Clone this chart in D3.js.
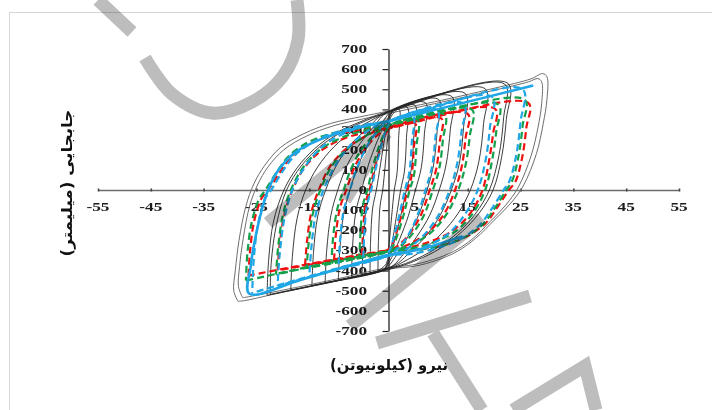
<!DOCTYPE html>
<html>
<head>
<meta charset="utf-8">
<script src="https://cdn.jsdelivr.net/npm/d3@7"></script>
<style>
  html, body { margin: 0; padding: 0; background: #fff; }
  svg { display: block; }
</style>
</head>
<body>
<svg id="chart" width="712" height="410"></svg>
<script>
// Axis ticks
const xTicks = [-55, -45, -35, -25, -15, -5, 5, 15, 25, 35, 45, 55];
const yTicks = [-700, -600, -500, -400, -300, -200, -100, 0, 100, 200, 300, 400, 500, 600, 700];

const xTitle = "نیرو (کیلونیوتن)";
const yTitle = "جابجایی (میلیمتر)";

// Test loops (thin black), [displacement, force] pairs
const blackLoops = [
  [[-2,-402],[-1.9,-250],[-1.6,-80],[-1.1,0],[-0.6,130],[-0.1,270],[0.4,360],[2,402],[1.9,250],[1.6,80],[1.1,0],[0.6,-130],[0.1,-270],[-0.4,-365],[-2,-402]],
  [[-3.5,-410],[-3.4,-260],[-3,-90],[-2.3,0],[-1.5,130],[-0.7,260],[0.1,360],[0.8,395],[3.5,412],[3.4,260],[3,90],[2.3,0],[1.5,-130],[0.7,-260],[-0.1,-360],[-0.8,-395],[-3.5,-410]],
  [[-5,-419],[-4.8,-270],[-4.3,-100],[-3.4,0],[-2.3,130],[-1.1,255],[0,345],[1,393],[5,421],[4.8,270],[4.3,100],[3.4,0],[2.3,-130],[1.1,-255],[0,-350],[-1,-396],[-5,-419]],
  [[-7,-431],[-6.8,-280],[-6.2,-110],[-5.1,0],[-3.8,125],[-2.1,245],[-0.6,330],[1,396],[7,433],[6.8,280],[6.2,110],[5.1,0],[3.8,-125],[2.1,-245],[0.6,-335],[-1,-396],[-7,-431]],
  [[-9.5,-445],[-9.2,-290],[-8.5,-120],[-7.3,0],[-5.7,125],[-3.6,235],[-1.5,320],[0.8,395],[9.5,449],[9.2,290],[8.5,120],[7.3,0],[5.7,-125],[3.6,-235],[1.5,-325],[-0.8,-394],[-9.5,-445]],
  [[-12,-460],[-11.7,-300],[-10.9,-125],[-9.6,0],[-7.8,125],[-5.4,230],[-2.8,315],[0,390],[12,464],[11.7,300],[10.9,125],[9.6,0],[7.8,-125],[5.4,-230],[2.8,-320],[0,-390],[-12,-460]],
  [[-14.5,-474],[-14.2,-310],[-13.4,-130],[-11.9,0],[-9.9,120],[-7.2,225],[-4,305],[-1,375],[14.5,480],[14.2,310],[13.4,130],[11.9,0],[9.9,-120],[7.2,-225],[4,-310],[1,-375],[-14.5,-474]],
  [[-18.5,-497],[-18.2,-330],[-17.3,-140],[-15.7,0],[-13.4,115],[-10.3,215],[-6.6,295],[-2.8,352],[0,388],[18.3,503],[18,330],[17.1,140],[15.5,0],[13.2,-115],[10.1,-215],[6.4,-300],[2.6,-360],[0,-390],[-18.5,-497]],
  [[-23,-523],[-22.7,-350],[-21.8,-160],[-19.8,0],[-17.3,110],[-14,205],[-9.8,285],[-5.2,340],[-1,382],[22.6,530],[22.3,350],[21.4,160],[19.8,0],[17.3,-110],[14,-205],[9.8,-290],[5.2,-350],[1,-388],[-23,-523]],
  [[-22.4,-518],[-22.2,-360],[-21.2,-170],[-19.3,0],[-16.5,120],[-13,215],[-8.7,290],[-4.2,345],[0,386],[22,526],[21.8,360],[20.9,170],[19.1,0],[16.4,-120],[13,-215],[8.7,-295],[4.2,-355],[0,-390],[-22.4,-518]]
];

// Largest test cycles (lighter grey)
const blackOuterLoops = [
  [[-28.5,-553],[-29.3,-500],[-29,-400],[-28.3,-250],[-27,-80],[-25.5,30],[-23.5,120],[-20.5,210],[-16,280],[-11,330],[-5,365],[0,392],[10,445],[20,505],[27,552],[29.2,578],[30,562],[30,450],[29.3,330],[28,180],[25.5,20],[23,-70],[20,-150],[16.5,-240],[13,-305],[9,-350],[5,-378],[0,-392],[-10,-452],[-20,-507],[-27,-548],[-28.5,-553]],
  [[-27.6,-535],[-28.4,-480],[-28.2,-380],[-27.5,-240],[-26.3,-80],[-24.8,25],[-22.8,115],[-19.8,200],[-15.5,268],[-10.5,318],[-5,352],[0,380],[10,436],[20,495],[26.5,537],[28.3,553],[29,537],[29,430],[28.3,310],[27,170],[24.6,15],[22.2,-75],[19.3,-155],[15.8,-245],[12.3,-305],[8.5,-345],[4.5,-372],[0,-385],[-10,-443],[-20,-497],[-26.5,-530],[-27.6,-535]]
];

// Model A (red dashed)
const redLoops = [
  [[-5,-324],[-4.8,-200],[-4.3,-60],[-3.6,0],[-2.6,110],[-1.4,220],[-0.4,285],[0.6,312],[5,332],[4.8,210],[4.3,60],[3.6,0],[2.6,-110],[1.4,-220],[0.4,-285],[-0.6,-303],[-5,-324]],
  [[-10.3,-348],[-10,-230],[-9.2,-90],[-8,0],[-6.5,110],[-4.5,200],[-2.2,270],[0,305],[10,355],[9.7,240],[9,100],[7.8,0],[6.2,-120],[4.2,-210],[2,-272],[0,-300],[-10.3,-348]],
  [[-15.8,-374],[-15.4,-250],[-14.6,-110],[-13.2,0],[-11,120],[-8,205],[-4.5,265],[-1.5,300],[15,378],[14.6,260],[13.9,120],[12.6,0],[10.5,-120],[7.5,-210],[4,-268],[1,-296],[-15.8,-374]],
  [[-21,-399],[-20.6,-270],[-19.7,-120],[-18.2,0],[-15.8,115],[-12.5,200],[-8.5,255],[-4,288],[0,307],[20.2,402],[19.8,280],[19,140],[17.8,0],[15.5,-115],[12,-205],[7.5,-260],[3,-290],[0,-300],[-21,-399]],
  [[-26.5,-425],[-26.2,-300],[-25.4,-150],[-24,-40],[-22.8,0],[-20.5,90],[-18.3,167],[-14.5,235],[-10,276],[-4.5,300],[0,309],[26.5,431],[26.1,310],[25.3,160],[24,40],[22.8,0],[20.5,-90],[18.3,-167],[14.5,-235],[10,-276],[4.5,-296],[0,-300],[-26.5,-425]]
];

// Model B (green dashed)
const greenLoops = [
  [[-5.5,-334],[-5.3,-210],[-4.8,-70],[-4,0],[-3,110],[-1.8,215],[-0.7,285],[0.5,324],[5.5,349],[5.3,220],[4.8,70],[4,0],[3,-110],[1.8,-215],[0.7,-285],[-0.5,-307],[-5.5,-334]],
  [[-10.8,-362],[-10.5,-240],[-9.7,-95],[-8.5,0],[-7,110],[-5,205],[-2.6,275],[0,320],[10.6,374],[10.3,250],[9.6,105],[8.4,0],[6.8,-120],[4.7,-212],[2.4,-275],[0,-304],[-10.8,-362]],
  [[-15.5,-388],[-15.1,-260],[-14.3,-115],[-12.9,0],[-10.7,120],[-7.7,208],[-4.2,270],[-1.2,312],[15.8,399],[15.4,270],[14.6,125],[13.2,0],[11,-120],[8,-212],[4.4,-270],[1.2,-300],[-15.5,-388]],
  [[-21.3,-419],[-20.9,-285],[-20,-125],[-18.5,0],[-16,118],[-12.7,205],[-8.7,262],[-4.2,298],[0,322],[20.8,424],[20.4,290],[19.6,145],[18.3,0],[16,-115],[12.5,-208],[8,-265],[3.3,-294],[0,-304],[-21.3,-419]],
  [[-27,-450],[-26.7,-310],[-25.9,-160],[-24.5,-45],[-23.3,0],[-21,95],[-18.8,170],[-15,240],[-10.5,282],[-5,308],[0,322],[25.8,448],[25.4,320],[24.6,165],[23.4,45],[22.3,0],[20,-95],[17.8,-172],[14,-240],[9.5,-280],[4.3,-300],[0,-304],[-27,-450]]
];

// Model C (blue dashed)
const blueLoops = [
  [[-4.8,-360],[-4.6,-230],[-4.1,-80],[-3.3,0],[-2.3,120],[-1.2,235],[-0.3,310],[0.6,345],[4.6,369],[4.4,235],[3.9,80],[3.1,0],[2.1,-120],[1,-235],[0.2,-300],[-0.6,-329],[-4.8,-360]],
  [[-9.5,-393],[-9.2,-260],[-8.5,-105],[-7.3,0],[-5.8,120],[-3.9,225],[-1.8,300],[0,340],[9.2,398],[8.9,265],[8.2,110],[7,0],[5.5,-125],[3.6,-230],[1.6,-295],[0,-325],[-9.5,-393]],
  [[-15,-433],[-14.6,-285],[-13.8,-125],[-12.3,0],[-10,125],[-7,228],[-3.8,295],[-1,332],[14.2,429],[13.8,285],[13,130],[11.6,0],[9.4,-128],[6.4,-232],[3.3,-295],[0.8,-320],[-15,-433]],
  [[-21,-476],[-20.6,-320],[-19.7,-140],[-18.2,0],[-15.7,120],[-12.3,220],[-8.3,282],[-3.8,322],[0,340],[19.6,463],[19.2,310],[18.4,150],[16.9,0],[14.5,-120],[11.2,-220],[7,-280],[2.8,-312],[0,-325],[-21,-476]],
  [[-25.8,-511],[-25.5,-340],[-24.7,-170],[-23.3,-40],[-22.2,0],[-20,95],[-17.6,175],[-13.8,245],[-9.3,292],[-4.3,325],[0,340],[25.4,500],[25,340],[24.2,175],[22.9,45],[21.8,0],[19.5,-95],[17.2,-175],[13.5,-245],[9,-290],[4,-318],[0,-325],[-25.8,-511]]
];

// Model C envelope branch (blue solid)
const blueEnvelope = [[14,-230],[8,-280],[3,-310],[0,-322],[-8,-380],[-16.8,-448],[-26.4,-514],[-26.1,-380],[-25.3,-250],[-24,-100],[-22.8,0],[-20.8,100],[-17.5,190],[-13,250],[-8,293],[-4,320],[0,342],[27.4,519]];

const svg = d3.select("#chart");
const W = 712, H = 410;

const x = d3.scaleLinear().domain([-55, 55]).range([98, 679]);
const y = d3.scaleLinear().domain([-700, 700]).range([331, 49]);

// frame
svg.append("rect")
  .attr("x", 9.5).attr("y", 12.5)
  .attr("width", W).attr("height", H)
  .attr("fill", "#fff")
  .attr("stroke", "#d6d6d6").attr("stroke-width", 1);

const labelFont = "'Liberation Serif','Times New Roman',serif";

// x axis along force = 0
const xAxisG = svg.append("g")
  .attr("transform", `translate(0,${y(0)})`)
  .call(d3.axisBottom(x).tickValues(xTicks).tickSizeInner(2).tickSizeOuter(0).tickFormat(""));
xAxisG.select(".domain").attr("stroke", "#6b6b6b").attr("stroke-width", 1.6);
xAxisG.selectAll(".tick line").attr("stroke", "#444").attr("stroke-width", 1.6).attr("y1", -1.5).attr("y2", 1.5);

// y axis along displacement = 0
const yAxisG = svg.append("g")
  .attr("transform", `translate(${x(0)},0)`)
  .call(d3.axisLeft(y).tickValues(yTicks).tickSizeInner(6).tickSizeOuter(0).tickFormat(""));
yAxisG.select(".domain").attr("stroke", "#222").attr("stroke-width", 1.3);
yAxisG.selectAll(".tick line").attr("stroke", "#222").attr("stroke-width", 1.2);

// tick labels (bold serif, wide)
svg.append("g").selectAll("text")
  .data(xTicks).join("text")
  .attr("transform", d => `translate(${x(d)},211) scale(1.5,1)`)
  .attr("text-anchor", "middle")
  .attr("font-family", labelFont).attr("font-weight", "bold").attr("font-size", 11.5)
  .attr("fill", "#1c1c1c")
  .text(d => d);

svg.append("g").selectAll("text")
  .data(yTicks).join("text")
  .attr("transform", d => `translate(367,${y(d) + 4}) scale(1.5,1)`)
  .attr("text-anchor", "end")
  .attr("font-family", labelFont).attr("font-weight", "bold").attr("font-size", 11.5)
  .attr("fill", "#1c1c1c")
  .text(d => d);

// axis titles, fitted to their measured spans
function fittedTitle(str, cx, cy, span, rot) {
  const t = svg.append("text")
    .attr("direction", "rtl")
    .attr("unicode-bidi", "embed")
    .attr("text-anchor", "middle")
    .attr("dominant-baseline", "central")
    .attr("font-family", "'DejaVu Sans','Noto Sans',sans-serif")
    .attr("font-weight", "bold").attr("font-size", 15)
    .attr("fill", "#111")
    .text(str);
  const len = t.node().getComputedTextLength() || span;
  const s = span / len;
  t.attr("transform", `translate(${cx},${cy}) rotate(${rot}) scale(${s},1)`);
}
fittedTitle(xTitle, 389, 365, 118, 0);
fittedTitle(yTitle, 67, 183, 147, -90);

// curves
const line = d3.line()
  .x(d => x(d[0]))
  .y(d => y(d[1]))
  .curve(d3.curveCatmullRom.alpha(0.5));

const plot = svg.append("g").attr("fill", "none");

plot.selectAll(".bo").data(blackOuterLoops).join("path")
  .attr("d", line).attr("stroke", "#6e6e6e").attr("stroke-width", 1);

plot.selectAll(".bk").data(blackLoops).join("path")
  .attr("d", line).attr("stroke", "#262626").attr("stroke-width", 0.9);

plot.selectAll(".rd").data(redLoops).join("path")
  .attr("d", line).attr("stroke", "#f01010").attr("stroke-width", 2.2)
  .attr("stroke-dasharray", "7,4");

plot.selectAll(".gr").data(greenLoops).join("path")
  .attr("d", line).attr("stroke", "#13a04b").attr("stroke-width", 2.2)
  .attr("stroke-dasharray", "7,4").attr("stroke-dashoffset", 3);

plot.selectAll(".bl").data(blueLoops).join("path")
  .attr("d", line).attr("stroke", "#1fa6e6").attr("stroke-width", 2.2)
  .attr("stroke-dasharray", "7,4").attr("stroke-dashoffset", 6);

plot.append("path").datum(blueEnvelope)
  .attr("d", line).attr("stroke", "#1fa6e6").attr("stroke-width", 2.6);

// faint lettering laid over the plot
const wmArc = [[145,58],[172,94],[212,113],[252,102],[283,76],[298,40],[297,0]];
const wmStrokes = [
  [[98,0],[132,32]],
  [[268,223],[390,122]],
  [[345,200],[386,133]],
  [[350,326],[482,218]],
  [[377,343],[530,296]],
  [[433,333],[482,410]],
  [[513,410],[585,366],[596,410]]
];
const wm = svg.append("g")
  .style("mix-blend-mode", "multiply")
  .attr("fill", "none")
  .attr("stroke", "#bdbdbd")
  .attr("stroke-width", 13);
wm.append("path").datum(wmArc)
  .attr("d", d3.line().curve(d3.curveCatmullRom.alpha(0.5)));
wm.selectAll(".s").data(wmStrokes).join("path")
  .attr("d", d3.line())
  .attr("stroke-linejoin", "miter");
</script>
</body>
</html>
